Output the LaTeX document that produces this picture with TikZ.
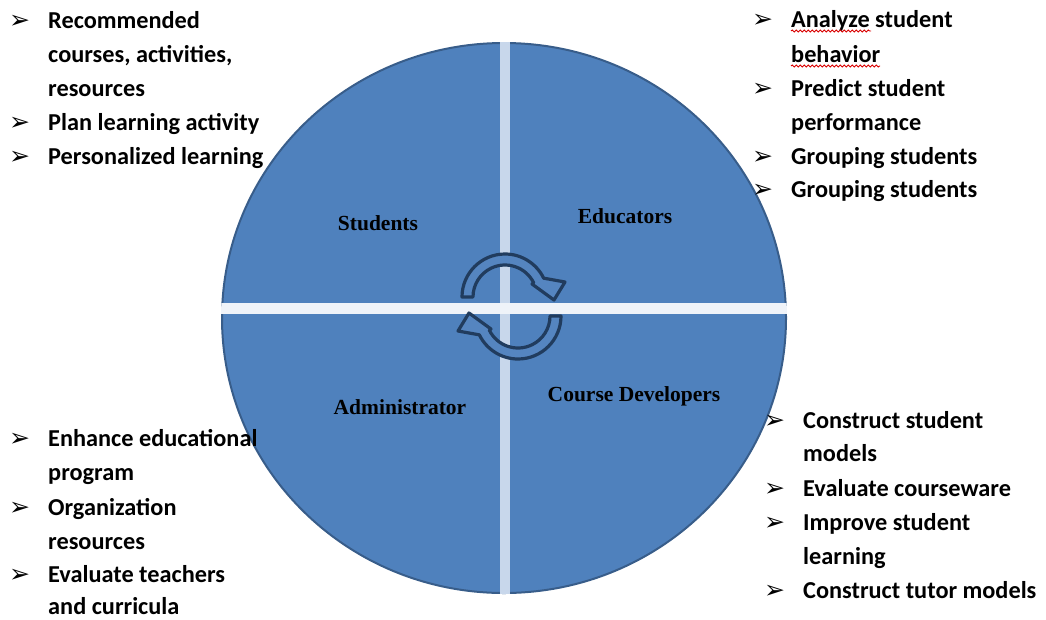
\documentclass[tikz,border=0pt]{standalone}
\usepackage{fontspec}
\setmainfont{Carlito}
\newfontfamily\calfont{Carlito}
\newfontfamily\serifb{Liberation Serif}
\newfontfamily\dejavu{DejaVu Sans}
\usetikzlibrary{decorations.pathmorphing}
\definecolor{circfill}{HTML}{4F81BD}
\definecolor{circedge}{HTML}{385D8A}
\definecolor{vbar}{HTML}{C8D7EB}
\definecolor{hbar}{HTML}{EFF3F9}
\definecolor{arrowdark}{HTML}{213C5E}
\definecolor{arrowfill}{HTML}{5585C0}
\newcommand\bodyfnt{\calfont\bfseries\fontsize{24.3}{34}\selectfont}
\newcommand\bulfnt{\dejavu\fontsize{25}{28}\selectfont}
\newcommand\labfnt{\serifb\bfseries\fontsize{21.5}{26}\selectfont}
\tikzset{
  bodytext/.style={anchor=base west, inner sep=0pt, font=\bodyfnt, text=black},
  bul/.style={anchor=base west, inner sep=0pt, font=\bulfnt, text=black},
  qlabel/.style={anchor=base, inner sep=0pt, font=\labfnt, text=black},
  cyc/.style={draw=arrowdark, line width=3.2pt, fill=arrowfill, line join=round},
  spell/.style={draw=red!85!black, line width=0.9pt, decorate,
    decoration={snake, amplitude=1pt, segment length=4pt}}
}
\begin{document}
\begin{tikzpicture}[x=1pt,y=1pt]
\useasboundingbox (0,0) rectangle (1046,-619);
% circle
\fill[circfill] (504,-318) ellipse [x radius=282pt, y radius=275pt];
\draw[circedge, line width=2pt] (504,-318) ellipse [x radius=282pt, y radius=275pt];
\begin{scope}
  \clip (504,-318) ellipse [x radius=283pt, y radius=276pt];
  \fill[vbar] (500,0) rectangle (510,-619);
  \fill[hbar] (200,-302.5) rectangle (820,-314);
\end{scope}
% cycle arrows
\begin{scope}[shift={(505,-297)}]
  \draw[cyc] (180:43pt) arc[start angle=180, end angle=26, radius=43pt]
     -- (60,15) -- (49,-3) -- (27,13) -- (26:32pt)
     arc[start angle=26, end angle=180, radius=32pt] -- cycle;
\end{scope}
\begin{scope}[shift={(518,-316)}, rotate=180]
  \draw[cyc] (180:43pt) arc[start angle=180, end angle=26, radius=43pt]
     -- (60,15) -- (49,-3) -- (27,13) -- (26:32pt)
     arc[start angle=26, end angle=180, radius=32pt] -- cycle;
\end{scope}
% quadrant labels
\node[qlabel] (stu) at (378,-230) {Students};
\node[qlabel] (edu) at (625,-223) {Educators};
\node[qlabel] (adm) at (400,-414) {Administrator};
\node[qlabel] (dev) at (634,-401) {Course Developers};
% top-left list
\node[bul] (tlb1) at (9,-28) {➢};
\node[bodytext] (tl1) at (48,-28) {Recommended};
\node[bodytext] (tl2) at (48,-62) {courses, activities,};
\node[bodytext] (tl3) at (48,-96) {resources};
\node[bul] (tlb2) at (9,-130) {➢};
\node[bodytext] (tl4) at (48,-130) {Plan learning activity};
\node[bul] (tlb3) at (9,-164) {➢};
\node[bodytext] (tl5) at (48,-164) {Personalized learning};
% top-right list
\node[bul] (trb1) at (752,-27) {➢};
\node[bodytext] (tr1) at (791,-27) {Analyze student};
\node[bodytext] (tr2) at (791,-62) {behavior};
\node[bul] (trb2) at (752,-96) {➢};
\node[bodytext] (tr3) at (791,-96) {Predict student};
\node[bodytext] (tr4) at (791,-130) {performance};
\node[bul] (trb3) at (752,-164) {➢};
\node[bodytext] (tr5) at (791,-164) {Grouping students};
\node[bul] (trb4) at (752,-197) {➢};
\node[bodytext] (tr6) at (791,-197) {Grouping students};
\draw[spell] ([yshift=-4pt]tr1.base west) -- ++(80,0);
\draw[spell] ([yshift=-4pt]tr2.base west) -- ++(89,0);
% bottom-right list
\node[bul] (brb1) at (764,-428) {➢};
\node[bodytext] (br1) at (803,-428) {Construct student};
\node[bodytext] (br2) at (803,-461) {models};
\node[bul] (brb2) at (764,-496) {➢};
\node[bodytext] (br3) at (803,-496) {Evaluate courseware};
\node[bul] (brb3) at (764,-530) {➢};
\node[bodytext] (br4) at (803,-530) {Improve student};
\node[bodytext] (br5) at (803,-564) {learning};
\node[bul] (brb4) at (764,-598) {➢};
\node[bodytext] (br6) at (803,-598) {Construct tutor models};
% bottom-left list
\node[bul] (blb1) at (9,-446) {➢};
\node[bodytext] (bl1) at (48,-446) {Enhance educational};
\node[bodytext] (bl2) at (48,-480) {program};
\node[bul] (blb2) at (9,-515) {➢};
\node[bodytext] (bl3) at (48,-515) {Organization};
\node[bodytext] (bl4) at (48,-549) {resources};
\node[bul] (blb3) at (9,-582) {➢};
\node[bodytext] (bl5) at (48,-582) {Evaluate teachers};
\node[bodytext] (bl6) at (48,-614) {and curricula};
\end{tikzpicture}
\end{document}
